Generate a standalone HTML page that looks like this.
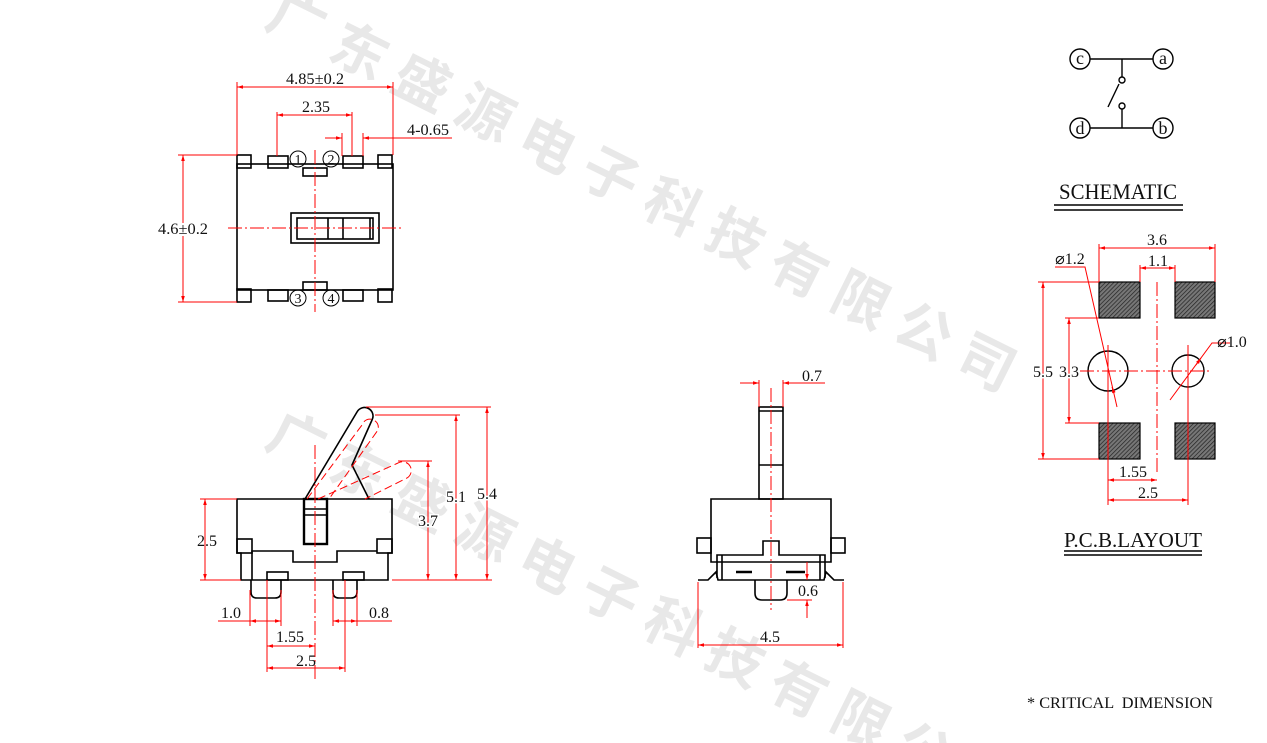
<!DOCTYPE html>
<html><head><meta charset="utf-8"><style>
html,body{margin:0;padding:0;background:#fff;width:1267px;height:743px;overflow:hidden;}
svg{display:block;overflow:hidden;}
.k{stroke:#000;fill:none;stroke-width:1.6;}
.kt{stroke:#000;fill:none;stroke-width:2.4;}
.r{stroke:#f00;fill:none;stroke-width:1;}
.rc{stroke:#f00;fill:none;stroke-width:1;stroke-dasharray:14 3 2 3;}
.rd{stroke:#f00;fill:none;stroke-width:1;stroke-dasharray:8 4;}
text{font-family:"Liberation Serif",serif;fill:#111;}
.wm{font-family:"Liberation Sans","Noto Sans CJK SC",sans-serif;fill:#e8e8e8;font-size:56px;font-weight:bold;}
</style></head><body>
<svg width="1267" height="743" viewBox="0 0 1267 743" xmlns="http://www.w3.org/2000/svg">
<defs>
<marker id="a" viewBox="0 0 10 10" refX="10" refY="5" markerWidth="8" markerHeight="6" orient="auto-start-reverse"><path d="M0,2 L10,5 L0,8 z" fill="#f00"/></marker>
<pattern id="h" width="3" height="3" patternUnits="userSpaceOnUse" patternTransform="rotate(45)"><rect width="3" height="3" fill="#777"/><line x1="0" y1="0" x2="0" y2="3" stroke="#222" stroke-width="1.4"/></pattern>
</defs>

<g>
<text class="wm" transform="translate(297,20) rotate(26.4)" text-anchor="middle" dominant-baseline="central"><tspan x="0">广</tspan><tspan x="70">东</tspan><tspan x="140">盛</tspan><tspan x="210">源</tspan><tspan x="280">电</tspan><tspan x="350">子</tspan><tspan x="420">科</tspan><tspan x="490">技</tspan><tspan x="560">有</tspan><tspan x="630">限</tspan><tspan x="700">公</tspan><tspan x="770">司</tspan></text>
<text class="wm" transform="translate(297,440) rotate(26.4)" text-anchor="middle" dominant-baseline="central"><tspan x="0">广</tspan><tspan x="70">东</tspan><tspan x="140">盛</tspan><tspan x="210">源</tspan><tspan x="280">电</tspan><tspan x="350">子</tspan><tspan x="420">科</tspan><tspan x="490">技</tspan><tspan x="560">有</tspan><tspan x="630">限</tspan><tspan x="700">公</tspan><tspan x="770">司</tspan></text>
</g>

<!-- TOP VIEW -->
<g class="k">
<rect x="237" y="164" width="156" height="126"/>
<rect x="237" y="155" width="14" height="13"/><rect x="378" y="155" width="14" height="13"/>
<rect x="268" y="156" width="20" height="12"/><rect x="343" y="156" width="20" height="12"/>
<rect x="303" y="168" width="24" height="8"/>
<rect x="303" y="282" width="24" height="8"/>
<rect x="237" y="289" width="14" height="13"/><rect x="378" y="289" width="14" height="13"/>
<rect x="268" y="290" width="20" height="11"/><rect x="343" y="290" width="20" height="11"/>
<rect x="291" y="213" width="88" height="30"/>
<rect x="297" y="218" width="76" height="21"/>
<line x1="328" y1="218" x2="328" y2="239"/><line x1="343" y1="218" x2="343" y2="239"/>
<line x1="370" y1="218" x2="370" y2="239"/>
<circle cx="298" cy="159" r="8" stroke-width="1"/><circle cx="331" cy="159" r="8" stroke-width="1"/>
<circle cx="298" cy="298" r="8" stroke-width="1"/><circle cx="331" cy="298" r="8" stroke-width="1"/>
</g>
<g font-size="14" text-anchor="middle"><text x="298" y="164">1</text><text x="331" y="164">2</text><text x="298" y="303">3</text><text x="331" y="303">4</text></g>
<g class="r">
<line class="rc" x1="228" y1="228" x2="402" y2="228"/>
<line class="rc" x1="315" y1="150" x2="315" y2="312"/>
<line x1="237" y1="82" x2="237" y2="155"/><line x1="393" y1="82" x2="393" y2="155"/>
<line x1="237" y1="87" x2="393" y2="87" marker-start="url(#a)" marker-end="url(#a)"/>
<line x1="277" y1="112" x2="277" y2="156"/><line x1="352" y1="112" x2="352" y2="156"/>
<line x1="277" y1="115" x2="352" y2="115" marker-start="url(#a)" marker-end="url(#a)"/>
<line x1="342" y1="133" x2="342" y2="156"/><line x1="363" y1="133" x2="363" y2="156"/>
<line x1="325" y1="138" x2="342" y2="138" marker-end="url(#a)"/>
<line x1="452" y1="138" x2="363" y2="138" marker-end="url(#a)"/>
<line x1="178" y1="155" x2="237" y2="155"/><line x1="178" y1="302" x2="237" y2="302"/>
<line x1="183" y1="155" x2="183" y2="302" marker-start="url(#a)" marker-end="url(#a)"/>
</g>
<g font-size="16">
<text x="315" y="84" text-anchor="middle" textLength="58" lengthAdjust="spacingAndGlyphs">4.85±0.2</text>
<text x="316" y="112" text-anchor="middle" textLength="28" lengthAdjust="spacingAndGlyphs">2.35</text>
<text x="428" y="135" text-anchor="middle" textLength="42" lengthAdjust="spacingAndGlyphs">4-0.65</text>
<text x="183" y="234" text-anchor="middle" textLength="50" lengthAdjust="spacingAndGlyphs" style="paint-order:stroke" stroke="#fff" stroke-width="4">4.6±0.2</text>
</g>

<!-- FRONT VIEW -->
<g class="k">
<path d="M305,499 L357,412 A8,8 0 0 1 372,420 L352,465 L369,499"/>
<path d="M237,499 H392 V553 H388 V580 H241 V553 H237 Z"/>
<rect x="237" y="539" width="15" height="14"/><rect x="377" y="539" width="15" height="14"/>
<path d="M252,580 V551 H293 V562 H337 V551 H377"/>
<rect x="267" y="572" width="21" height="8"/><rect x="343" y="572" width="21" height="8"/>
<path d="M251,580 V592 Q251,598 257,598 H275 Q281,598 281,592 V580"/>
<path d="M333,580 V592 Q333,598 339,598 H351 Q357,598 357,592 V580"/>
</g>
<rect x="304" y="499" width="23" height="45" class="kt"/>
<line x1="304" y1="509" x2="327" y2="509" class="k"/><line x1="304" y1="515" x2="327" y2="515" class="k"/>
<g class="r">
<path class="rd" d="M307,499 L362,425 A8,8 0 0 1 378,430 L329,499"/>
<path class="rd" d="M318,499 L398,463 A8,8 0 0 1 407,478 L365,499"/>
<line class="rc" x1="315" y1="445" x2="315" y2="680"/>
<line x1="200" y1="499" x2="237" y2="499"/><line x1="200" y1="580" x2="241" y2="580"/>
<line x1="205" y1="499" x2="205" y2="580" marker-start="url(#a)" marker-end="url(#a)"/>
<line x1="392" y1="580" x2="492" y2="580"/>
<line x1="398" y1="461" x2="432" y2="461"/>
<line x1="428" y1="461" x2="428" y2="580" marker-start="url(#a)" marker-end="url(#a)"/>
<line x1="375" y1="415" x2="460" y2="415"/>
<line x1="456" y1="415" x2="456" y2="580" marker-start="url(#a)" marker-end="url(#a)"/>
<line x1="366" y1="407" x2="491" y2="407"/>
<line x1="487" y1="407" x2="487" y2="580" marker-start="url(#a)" marker-end="url(#a)"/>
<line x1="250" y1="590" x2="250" y2="626"/><line x1="281" y1="590" x2="281" y2="626"/>
<line x1="218" y1="621" x2="250" y2="621"/><line x1="250" y1="621" x2="281" y2="621" marker-start="url(#a)" marker-end="url(#a)"/>
<line x1="333" y1="590" x2="333" y2="626"/><line x1="357" y1="590" x2="357" y2="626"/>
<line x1="333" y1="621" x2="357" y2="621" marker-start="url(#a)" marker-end="url(#a)"/><line x1="357" y1="621" x2="392" y2="621"/>
<line x1="267" y1="580" x2="267" y2="672"/><line x1="345" y1="580" x2="345" y2="672"/>
<line x1="267" y1="646" x2="315" y2="646" marker-start="url(#a)" marker-end="url(#a)"/>
<line x1="267" y1="668" x2="345" y2="668" marker-start="url(#a)" marker-end="url(#a)"/>
</g>
<g font-size="16" text-anchor="middle">
<text x="207" y="546">2.5</text>
<text x="428" y="526" style="paint-order:stroke" stroke="#fff" stroke-width="3">3.7</text>
<text x="456" y="502" style="paint-order:stroke" stroke="#fff" stroke-width="3">5.1</text>
<text x="487" y="499" style="paint-order:stroke" stroke="#fff" stroke-width="3">5.4</text>
<text x="231" y="618">1.0</text>
<text x="379" y="618">0.8</text>
<text x="290" y="642">1.55</text>
<text x="306" y="666">2.5</text>
</g>

<!-- SIDE VIEW -->
<g class="k">
<rect x="759" y="407" width="24" height="92"/>
<line x1="759" y1="411" x2="783" y2="411"/>
<line x1="759" y1="465" x2="783" y2="465"/>
<path d="M711,499 H831 V562 H711 Z"/>
<rect x="697" y="538" width="14" height="15"/><rect x="831" y="538" width="14" height="15"/>
<path d="M717,578 V555 H763 V541 H779 V555 H825 V578"/>
<line x1="722" y1="555" x2="722" y2="580"/><line x1="820" y1="555" x2="820" y2="580"/>
<path d="M698,580 H708 L716,572 L718,580 H824 L826,572 L834,580 H844"/>
<path d="M755,580 V593 Q755,600 762,600 H780 Q787,600 787,593 V580"/>
</g>
<line x1="736" y1="572" x2="752" y2="572" stroke="#000" stroke-width="2.5"/>
<line x1="786" y1="572" x2="805" y2="572" stroke="#000" stroke-width="2.5"/>
<g class="r">
<line class="rc" x1="771" y1="388" x2="771" y2="610"/>
<line x1="759" y1="380" x2="759" y2="407"/><line x1="783" y1="380" x2="783" y2="407"/>
<line x1="740" y1="383" x2="759" y2="383" marker-end="url(#a)"/>
<line x1="825" y1="383" x2="783" y2="383" marker-end="url(#a)"/>
<line x1="807" y1="562" x2="807" y2="580" marker-end="url(#a)"/>
<line x1="807" y1="618" x2="807" y2="600" marker-end="url(#a)"/>
<line x1="787" y1="600" x2="812" y2="600"/>
<line x1="698" y1="582" x2="698" y2="648"/><line x1="843" y1="582" x2="843" y2="648"/>
<line x1="698" y1="645" x2="843" y2="645" marker-start="url(#a)" marker-end="url(#a)"/>
</g>
<g font-size="16" text-anchor="middle">
<text x="812" y="381">0.7</text>
<text x="808" y="596">0.6</text>
<text x="770" y="642">4.5</text>
</g>

<!-- SCHEMATIC -->
<g stroke="#000" fill="none" stroke-width="1.4">
<circle cx="1080" cy="59" r="10"/><circle cx="1163" cy="59" r="10"/>
<circle cx="1080" cy="128" r="10"/><circle cx="1163" cy="128" r="10"/>
<line x1="1090" y1="59" x2="1153" y2="59"/><line x1="1090" y1="128" x2="1153" y2="128"/>
<line x1="1122" y1="59" x2="1122" y2="77"/>
<circle cx="1122" cy="80" r="3"/>
<line x1="1119" y1="84" x2="1108" y2="107"/>
<circle cx="1122" cy="106" r="3"/>
<line x1="1122" y1="109" x2="1122" y2="128"/>
</g>
<g font-size="18" text-anchor="middle"><text x="1080" y="64">c</text><text x="1163" y="64">a</text><text x="1080" y="134">d</text><text x="1163" y="134">b</text></g>
<text x="1118" y="199" font-size="22" text-anchor="middle" textLength="118" lengthAdjust="spacingAndGlyphs">SCHEMATIC</text>
<line x1="1054" y1="205" x2="1183" y2="205" stroke="#000" stroke-width="1.5"/>
<line x1="1054" y1="210" x2="1183" y2="210" stroke="#000" stroke-width="1.5"/>

<!-- PCB LAYOUT -->
<g stroke="#000" stroke-width="1.2">
<rect x="1099" y="282" width="41" height="36" fill="url(#h)"/>
<rect x="1175" y="282" width="40" height="36" fill="url(#h)"/>
<rect x="1099" y="423" width="41" height="36" fill="url(#h)"/>
<rect x="1175" y="423" width="40" height="36" fill="url(#h)"/>
</g>
<circle cx="1108" cy="371" r="20" stroke="#000" stroke-width="1.4" fill="none"/>
<circle cx="1188" cy="371" r="16" stroke="#000" stroke-width="1.4" fill="none"/>
<g class="r">
<line class="rc" x1="1080" y1="371" x2="1212" y2="371"/>
<line class="rc" x1="1157" y1="282" x2="1157" y2="472"/>
<line x1="1099" y1="244" x2="1099" y2="282"/><line x1="1215" y1="244" x2="1215" y2="282"/>
<line x1="1099" y1="248" x2="1215" y2="248" marker-start="url(#a)" marker-end="url(#a)"/>
<line x1="1140" y1="265" x2="1140" y2="282"/><line x1="1175" y1="265" x2="1175" y2="282"/>
<line x1="1140" y1="268" x2="1175" y2="268" marker-start="url(#a)" marker-end="url(#a)"/>
<line x1="1038" y1="282" x2="1099" y2="282"/><line x1="1038" y1="459" x2="1099" y2="459"/>
<line x1="1043" y1="282" x2="1043" y2="459" marker-start="url(#a)" marker-end="url(#a)"/>
<line x1="1065" y1="318" x2="1099" y2="318"/><line x1="1065" y1="423" x2="1099" y2="423"/>
<line x1="1069" y1="318" x2="1069" y2="423" marker-start="url(#a)" marker-end="url(#a)"/>
<line x1="1108" y1="345" x2="1108" y2="505"/><line x1="1188" y1="345" x2="1188" y2="505"/>
<line x1="1108" y1="480" x2="1157" y2="480" marker-start="url(#a)" marker-end="url(#a)"/>
<line x1="1108" y1="500" x2="1188" y2="500" marker-start="url(#a)" marker-end="url(#a)"/>
<path d="M1055,267 H1085 L1117,407"/>
<line x1="1114" y1="393" x2="1112" y2="387" marker-end="url(#a)"/>
<path d="M1230,343 H1212 L1170,400"/>
<line x1="1196" y1="365" x2="1201" y2="358" marker-end="url(#a)"/>
</g>
<g font-size="16" text-anchor="middle">
<text x="1157" y="245">3.6</text>
<text x="1158" y="266">1.1</text>
<text x="1043" y="377" style="paint-order:stroke" stroke="#fff" stroke-width="3">5.5</text>
<text x="1069" y="377" style="paint-order:stroke" stroke="#fff" stroke-width="3">3.3</text>
<text x="1133" y="477">1.55</text>
<text x="1148" y="498">2.5</text>
<text x="1070" y="264">⌀1.2</text>
<text x="1232" y="347">⌀1.0</text>
</g>
<text x="1133" y="547" font-size="21" text-anchor="middle" textLength="138" lengthAdjust="spacingAndGlyphs">P.C.B.LAYOUT</text>
<line x1="1064" y1="551" x2="1202" y2="551" stroke="#000" stroke-width="1.4"/>
<line x1="1064" y1="555" x2="1202" y2="555" stroke="#000" stroke-width="1.4"/>
<text x="1027" y="708" font-size="16" textLength="186" lengthAdjust="spacingAndGlyphs" xml:space="preserve">* CRITICAL  DIMENSION</text>
</svg>
</body></html>
